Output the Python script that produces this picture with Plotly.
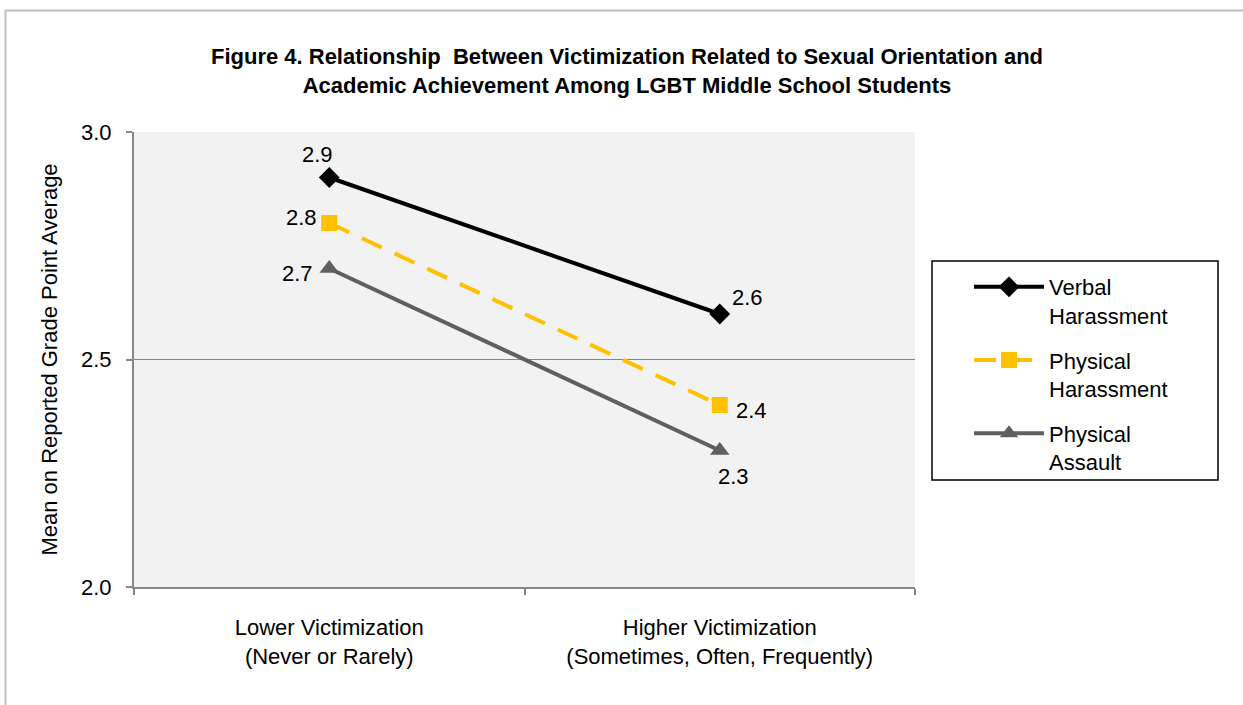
import plotly.graph_objects as go

W, H = 1243, 705

categories = ["Lower Victimization<br>(Never or Rarely)",
              "Higher Victimization<br>(Sometimes, Often, Frequently)"]
series_names = ["Verbal<br>Harassment", "Physical<br>Harassment", "Physical<br>Assault"]
verbal = [2.9, 2.6]
physical_harassment = [2.8, 2.4]
physical_assault = [2.7, 2.3]
y_ticks = [2.0, 2.5, 3.0]
y_tick_labels = ["2.0", "2.5", "3.0"]

series_values = [verbal, physical_harassment, physical_assault]
colors = ["#000000", "#FFC000", "#5F5F5F"]
symbols = ["diamond", "square", "triangle-up"]
msizes = [16, 16, 17]
dashes = ["solid", "22px,14px", "solid"]
# label offsets (px) per series per point
label_offsets = [[(-12, 23), (28, 17)],
                 [(-28, 6), (32, -5)],
                 [(-32, -5), (14, -26)]]

FONT = "Liberation Sans, Arial, sans-serif"
FS = 22

def px_x(p):
    return p / W

def px_y(p):
    return 1 - p / H

fig = go.Figure()
annotations = []
for i, (name, vals) in enumerate(zip(series_names, series_values)):
    fig.add_trace(go.Scatter(
        x=categories, y=vals, name=name, mode="lines+markers",
        line=dict(color=colors[i], width=4, dash=dashes[i]),
        marker=dict(color=colors[i], symbol=symbols[i], size=msizes[i]),
        legendgroup=str(i),
    ))
    for j, v in enumerate(vals):
        dx, dy = label_offsets[i][j]
        annotations.append(dict(
            x=categories[j], y=v, text=f"{v:.1f}", showarrow=False,
            xshift=dx, yshift=dy, font=dict(family=FONT, size=FS, color="#000000"),
            xref="x", yref="y"))

fig.update_layout(
    width=W, height=H,
    margin=dict(l=0, r=0, t=0, b=0, pad=0),
    paper_bgcolor="white",
    plot_bgcolor="#F2F2F2",
    font=dict(family=FONT, size=FS, color="#000000"),
    title=dict(
        text="<b>Figure 4. Relationship  Between Victimization Related to Sexual Orientation and<br>Academic Achievement Among LGBT Middle School Students</b>",
        x=627 / W, xanchor="center", y=1 - 64 / H, yanchor="top",
        font=dict(family=FONT, size=22, color="#000000"),
        automargin=False,
    ),
    xaxis=dict(
        domain=[px_x(134), px_x(915)],
        type="category", range=[-0.5, 1.5], automargin=False,
        showgrid=False, showline=True, linecolor="#868686", linewidth=2,
        ticks="outside", tickson="boundaries", ticklen=6, tickcolor="#868686", tickwidth=2,
        tickfont=dict(family=FONT, size=FS), ticklabelstandoff=20,
        zeroline=False, fixedrange=True,
    ),
    yaxis=dict(
        domain=[1 - 587 / H, 1 - 132 / H],
        range=[2.0, 3.0], tickvals=y_ticks, ticktext=y_tick_labels, automargin=False,
        showgrid=True, gridcolor="#868686", gridwidth=1,
        showline=True, linecolor="#868686", linewidth=2,
        ticks="outside", ticklen=6, tickcolor="#868686", tickwidth=2,
        tickfont=dict(family=FONT, size=FS), ticklabelstandoff=10,
        title=dict(text="Mean on Reported Grade Point Average", font=dict(family=FONT, size=FS), standoff=17),
        zeroline=False, fixedrange=True,
    ),
    legend=dict(
        x=px_x(969), y=px_y(266), xanchor="left", yanchor="top",
        bgcolor="rgba(0,0,0,0)", borderwidth=0,
        font=dict(family=FONT, size=FS), valign="top",
        traceorder="grouped", tracegroupgap=13, itemwidth=70,
    ),
    annotations=annotations,
    shapes=[
        dict(type="rect", xref="paper", yref="paper",
             x0=px_x(932), x1=px_x(1218), y0=px_y(480), y1=px_y(261),
             line=dict(color="#000000", width=1.5), fillcolor="rgba(0,0,0,0)", layer="above"),
        dict(type="rect", xref="paper", yref="paper",
             x0=px_x(5.5), x1=px_x(1260), y0=px_y(720), y1=px_y(10.5),
             line=dict(color="#BFBFBF", width=2), fillcolor="rgba(0,0,0,0)", layer="below"),
    ],
    showlegend=True,
)

fig.write_html("out.html", config={"displayModeBar": False},
               post_script="document.body.style.margin='0';")
